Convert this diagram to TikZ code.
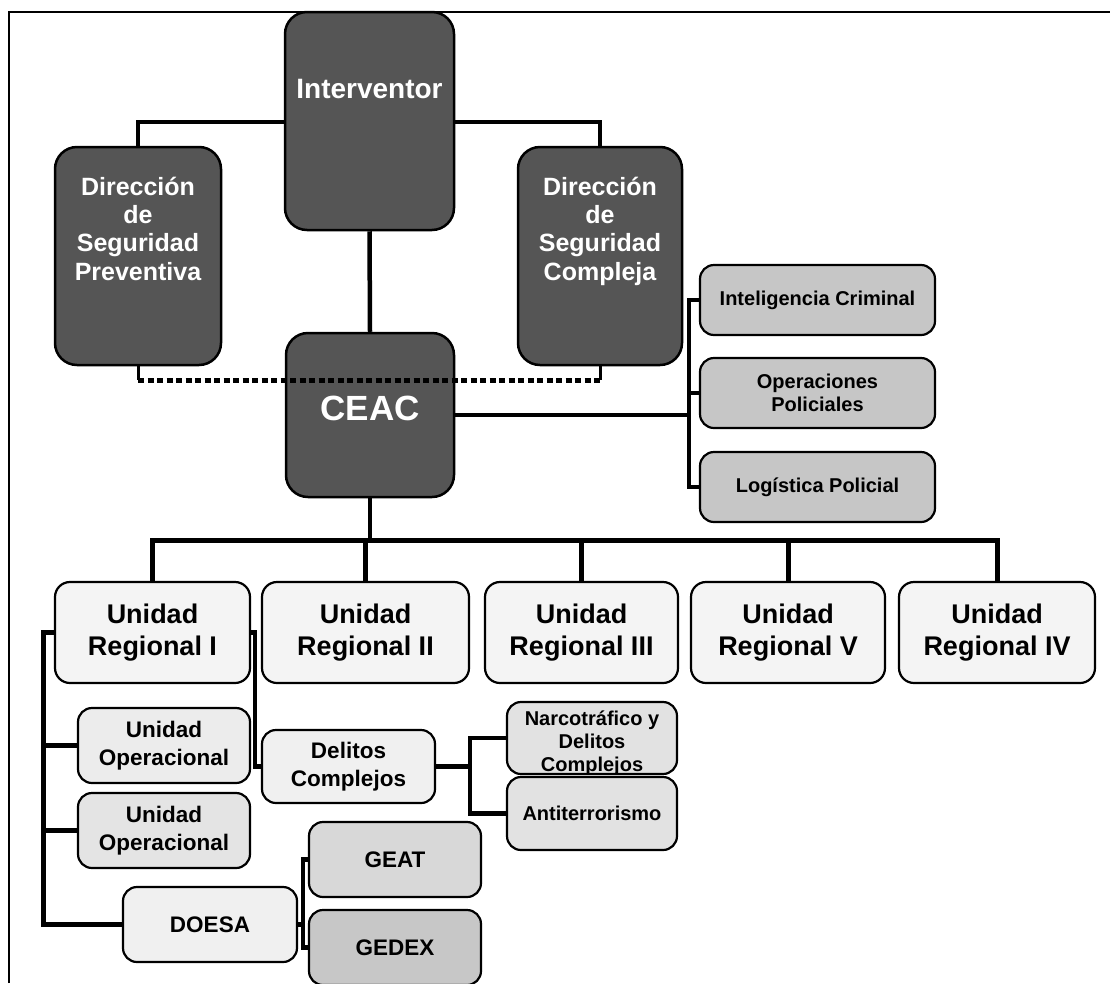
\documentclass[tikz,border=0pt]{standalone}
\usepackage{fontspec}
\setmainfont{Liberation Sans}
\usetikzlibrary{calc}
\definecolor{darkfill}{HTML}{555555}
\definecolor{midfill}{HTML}{C6C6C6}
\definecolor{urfill}{HTML}{F4F4F4}
\definecolor{uofill}{HTML}{ECECEC}
\definecolor{uofillb}{HTML}{E4E4E4}
\definecolor{paleFill}{HTML}{F0F0F0}
\definecolor{gfill}{HTML}{D8D8D8}
\definecolor{nfill}{HTML}{E2E2E2}
\newcommand{\myfs}[2]{\fontsize{#1}{#2}\selectfont}
\tikzset{
  darkbox/.style={draw=black, line width=2.5pt, fill=darkfill, rounded corners=22pt, inner sep=0pt},
  lightbox/.style={draw=black, line width=2.2pt, rounded corners=14pt, inner sep=0pt, align=center, font=\bfseries},
  wtext/.style={text=white, align=center, inner sep=0pt, font=\bfseries\myfs{25}{28.3}},
  conn/.style={line width=4.5pt, line join=miter},
  bus/.style={line width=5pt, line join=miter},
  tickline/.style={line width=3pt},
  dotline/.style={line width=5pt, dash pattern=on 6pt off 3.5pt, draw=black},
  frameline/.style={line width=1.6pt}
}
\begin{document}
\begin{tikzpicture}[x=1pt,y=-1pt]
\useasboundingbox (0,0) rectangle (1110,983);
\draw[frameline] (9,983) -- (9,12) -- (1110,12);

% dark boxes
\node[darkbox, minimum width=169pt, minimum height=218pt] (interv) at (369.5,121) {};
\node[darkbox, minimum width=166pt, minimum height=218pt] (prev) at (138,256) {};
\node[darkbox, minimum width=164pt, minimum height=218pt] (comp) at (600,256) {};
\node[darkbox, minimum width=168pt, minimum height=164pt] (ceac) at (370,415) {};

% right boxes
\node[lightbox, fill=midfill, minimum width=235pt, minimum height=70pt, font=\bfseries\myfs{20}{23}] (intel) at (817.5,300) {Inteligencia Criminal};
\node[lightbox, fill=midfill, minimum width=235pt, minimum height=70pt, font=\bfseries\myfs{20}{23}] (opera) at (817.5,393) {Operaciones\\Policiales};
\node[lightbox, fill=midfill, minimum width=235pt, minimum height=70pt, font=\bfseries\myfs{20}{23}] (logi) at (817.5,487) {Logística Policial};

% unidades regionales
\node[lightbox, fill=urfill, rounded corners=15pt, minimum width=195pt, minimum height=101pt, font=\bfseries\myfs{27}{32}] (ur1) at (152.5,632.5) {Unidad\\Regional I};
\node[lightbox, fill=urfill, rounded corners=15pt, minimum width=207pt, minimum height=101pt, font=\bfseries\myfs{27}{32}] (ur2) at (365.5,632.5) {Unidad\\Regional II};
\node[lightbox, fill=urfill, rounded corners=15pt, minimum width=193pt, minimum height=101pt, font=\bfseries\myfs{27}{32}] (ur3) at (581.5,632.5) {Unidad\\Regional III};
\node[lightbox, fill=urfill, rounded corners=15pt, minimum width=194pt, minimum height=101pt, font=\bfseries\myfs{27}{32}] (ur5) at (788,632.5) {Unidad\\Regional V};
\node[lightbox, fill=urfill, rounded corners=15pt, minimum width=196pt, minimum height=101pt, font=\bfseries\myfs{27}{32}] (ur4) at (997,632.5) {Unidad\\Regional IV};

% sub units
\node[lightbox, fill=uofill, minimum width=172pt, minimum height=75pt, font=\bfseries\myfs{22.5}{28}] (uo1) at (164,745.5) {Unidad\\Operacional};
\node[lightbox, fill=uofillb, minimum width=172pt, minimum height=75pt, font=\bfseries\myfs{22.5}{28}] (uo2) at (164,830.5) {Unidad\\Operacional};
\node[lightbox, fill=paleFill, minimum width=174pt, minimum height=75pt, font=\bfseries\myfs{22.5}{28}] (doesa) at (210,924.5) {DOESA};
\node[lightbox, fill=paleFill, minimum width=173pt, minimum height=73pt, font=\bfseries\myfs{22.5}{28}] (delitos) at (348.5,766.5) {Delitos\\Complejos};
\node[lightbox, fill=gfill, minimum width=172pt, minimum height=75pt, font=\bfseries\myfs{22.5}{28}] (geat) at (395,859.5) {GEAT};
\node[lightbox, fill=gfill!92!black, minimum width=172pt, minimum height=75pt, font=\bfseries\myfs{22.5}{28}] (gedex) at (395,947.5) {GEDEX};
\node[lightbox, fill=nfill, minimum width=170pt, minimum height=72pt,
  path picture={\node[draw=none, fill=none, inner sep=0pt, minimum width=0pt, minimum height=0pt, align=center, anchor=base, font=\bfseries\myfs{20}{23}] (narcoT) at ([yshift=-69pt]path picture bounding box.north) {Narcotráfico y\\Delitos\\Complejos};}] (narco) at (592,738) {};
\node[lightbox, fill=nfill, minimum width=170pt, minimum height=73pt, font=\bfseries\myfs{20}{23}] (anti) at (592,813.5) {Antiterrorismo};

% texts in dark boxes (anchor base = last line baseline)
\node[wtext, font=\bfseries\myfs{28}{32}, anchor=base] (intervT) at (369.5,98) {Interventor};
\node[wtext, anchor=base] (prevT) at (138,280) {Dirección\\de\\Seguridad\\Preventiva};
\node[wtext, anchor=base] (compT) at (600,280) {Dirección\\de\\Seguridad\\Compleja};
\node[wtext, font=\bfseries\myfs{35}{40}, anchor=base] (ceacT) at (370,420) {CEAC};

% coordinates
\coordinate (topY) at (0,122);
\coordinate (dotY) at (0,380);
\coordinate (rbus) at (689,0);
\coordinate (busY) at (0,540);
\coordinate (lbx) at (43,0);
\coordinate (rbx) at (255,0);
\coordinate (dnx) at (470,0);
\coordinate (dgx) at (303,0);

% connectors top
\draw[conn] (interv.west |- topY) -| (prev.north);
\draw[conn] (interv.east |- topY) -| (comp.north);
\draw[conn] (interv.south) -- (ceac.north);
\draw[tickline] (prev.south) -- (prev.south |- dotY);
\draw[tickline] (comp.south) -- (comp.south |- dotY);
\draw[dotline] (prev.south |- dotY) -- (comp.south |- dotY);

% right branch
\draw[conn] (ceac.east) -- (ceac.east -| rbus);
\draw[conn] (intel.west) -| (logi.west -| rbus) -- (logi.west);
\draw[conn] (opera.west) -- (opera.west -| rbus);

% lower bus
\draw[conn] (ceac.south) -- (ceac.south |- busY);
\draw[bus] (ur1.north) |- (ur4.north |- busY) -- (ur4.north);
\draw[bus] (ur2.north) -- (ur2.north |- busY);
\draw[bus] (ur3.north) -- (ur3.north |- busY);
\draw[bus] (ur5.north) -- (ur5.north |- busY);

% unidad regional I brackets
\draw[bus] (ur1.west) -| (doesa.west -| lbx) -- (doesa.west);
\draw[conn] (uo1.west) -- (uo1.west -| lbx);
\draw[conn] (uo2.west) -- (uo2.west -| lbx);
\draw[conn] (ur1.east) -| (delitos.west -| rbx) -- (delitos.west);
\draw[conn] (delitos.east) -- (delitos.east -| dnx);
\draw[conn] (narco.west) -| (anti.west -| dnx) -- (anti.west);
\draw[conn] (doesa.east) -- (doesa.east -| dgx);
\draw[conn] (geat.west) -| (gedex.west -| dgx) -- (gedex.west);
\end{tikzpicture}
\end{document}
